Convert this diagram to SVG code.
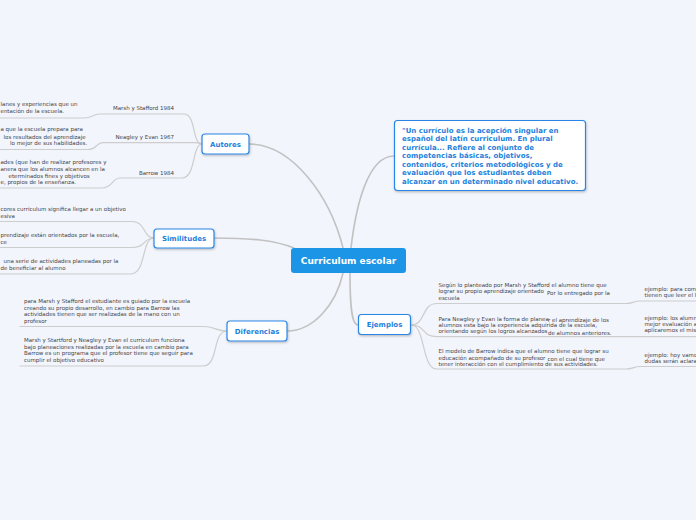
<svg xmlns="http://www.w3.org/2000/svg" width="696" height="520" viewBox="0 0 696 520">
<style>
.bg{fill:#f3f5fd}
.main{fill:none;stroke:#c2c2c2;stroke-width:1.6;stroke-linecap:round}
.sub{fill:none;stroke:#cdcdcd;stroke-width:1.2;stroke-linecap:round}
.node{fill:#ffffff;stroke:#2b86e4;stroke-width:1.2}
.lbl{font-family:"DejaVu Sans",sans-serif;font-weight:bold;font-size:7px;fill:#1f7fdc;text-anchor:middle}
.root{fill:#1d95e6}
.rootlbl{font-family:"DejaVu Sans",sans-serif;font-weight:bold;font-size:9px;fill:#ffffff;text-anchor:middle}
.t{font-family:"DejaVu Sans",sans-serif;font-size:5.5px;fill:#444444}
.te{font-family:"DejaVu Sans",sans-serif;font-size:5.5px;fill:#444444;text-anchor:end}
.q{font-family:"DejaVu Sans",sans-serif;font-weight:bold;font-size:7px;fill:#1f7fdc}
</style>
<defs>
<filter id="sh" x="-20%" y="-30%" width="140%" height="170%">
<feDropShadow dx="0.6" dy="1.2" stdDeviation="0.8" flood-color="#000000" flood-opacity="0.25"/>
</filter>
</defs>
<rect class="bg" x="0" y="0" width="696" height="520"/>

<g id="connectors">
<path class="main" d="M249,144 C292,144 330,196 343,248"/>
<path class="main" d="M351,248 C356,205 368,156 394,156"/>
<path class="main" d="M214,238 C250,238 274,240 294,248"/>
<path class="main" d="M343,273 C336,305 313,331 287,331"/>
<path class="main" d="M350,273 C350,302 351,325 358,325"/>
<path class="sub" d="M202,144 C192,144 196,114 184,114 L100,114 C92,114 93,118 84,118 L0,118"/>
<path class="sub" d="M202,144 C199,143 199,142.7 194,142.7 L103,142.7 C96,142.7 97,149.5 88,149.5 L0,149.5"/>
<path class="sub" d="M202,144 C192,144 196,178 182,178 L120,178 C112,178 113,188 102,188 L0,188"/>
<path class="sub" d="M154,238 C143,238 146,221.5 132,221.5 L0,221.5"/>
<path class="sub" d="M154,238 C143,238 146,247.5 132,247.5 L0,247.5"/>
<path class="sub" d="M154,238 C141,238 147,274 130,274 L0,274"/>
<path class="sub" d="M227,331 C215,331 216,326.5 203,326.5 L20,326.5"/>
<path class="sub" d="M227,331 C212,331 219,366 203,366 L20,366"/>
<path class="sub" d="M411,325 C426,325 421,303.5 437,303.5 L626,303.5 C633,303.5 633,301 641,301 L696,301"/>
<path class="sub" d="M411,325 C426,325 421,336.7 437,336.7 L696,336.7"/>
<path class="sub" d="M411,325 C426,325 421,369 437,369 L626,369 C633,369 633,366.5 641,366.5 L696,366.5"/>
</g>

<g id="root">
<rect class="root" x="291" y="248" width="115" height="25" rx="3"/>
<text class="rootlbl" x="348.5" y="264">Curriculum escolar</text>
</g>

<g id="quote">
<rect class="node" x="394.5" y="120.5" width="191" height="70" rx="3" filter="url(#sh)"/>
<text class="q" x="402" y="132.5">"Un currículo es la acepción singular en</text>
<text class="q" x="402" y="141">español del latín curriculum. En plural</text>
<text class="q" x="402" y="149.5">currícula... Refiere al conjunto de</text>
<text class="q" x="402" y="158">competencias básicas, objetivos,</text>
<text class="q" x="402" y="166.5">contenidos, criterios metodológicos y de</text>
<text class="q" x="402" y="175">evaluación que los estudiantes deben</text>
<text class="q" x="402" y="183.5">alcanzar en un determinado nivel educativo.</text>
</g>

<g id="autores">
<rect class="node" x="202" y="134" width="47" height="20" rx="3" filter="url(#sh)"/>
<text class="lbl" x="225.5" y="146.5">Autores</text>
</g>
<g id="autores-marsh">
<text class="te" x="174" y="110.3">Marsh y Stafford 1984</text>
<text class="t" x="0.5" y="106.3">lanes y experiencias que un</text>
<text class="t" x="0.5" y="113">entación de la escuela.</text>
</g>
<g id="autores-neagley">
<text class="te" x="174" y="139.3">Neagley y Evan 1967</text>
<text class="t" x="0.5" y="131">a que la escuela prepara para</text>
<text class="t" x="3.5" y="138.7">los resultados del aprendizaje</text>
<text class="t" x="10" y="144.7">lo mejor de sus habilidades.</text>
</g>
<g id="autores-barrow">
<text class="te" x="174" y="175.3">Barrow 1984</text>
<text class="t" x="0.5" y="164.3">ades (que han de realizar profesores y</text>
<text class="t" x="0.5" y="171.3">anera que los alumnos alcancen en la</text>
<text class="t" x="8.5" y="178">eterminados fines y objetivos</text>
<text class="t" x="0.5" y="184.3">e, propios de la enseñanza.</text>
</g>

<g id="similitudes">
<rect class="node" x="154" y="229" width="60" height="19" rx="3" filter="url(#sh)"/>
<text class="lbl" x="184" y="241">Similitudes</text>
</g>
<g id="similitudes-1">
<text class="t" x="0.5" y="211.3">cores curriculum significa llegar a un objetivo</text>
<text class="t" x="0.5" y="218">esiva</text>
</g>
<g id="similitudes-2">
<text class="t" x="0.5" y="237">prendizaje están orientados por la escuela,</text>
<text class="t" x="0.5" y="243.7">ce</text>
</g>
<g id="similitudes-3">
<text class="t" x="3.5" y="263">una serie de actividades planeadas por la</text>
<text class="t" x="0.5" y="269.7">de beneficiar al alumno</text>
</g>

<g id="diferencias">
<rect class="node" x="227" y="321" width="60" height="20" rx="3" filter="url(#sh)"/>
<text class="lbl" x="257" y="333.5">Diferencias</text>
</g>
<g id="diferencias-1">
<text class="t" x="24" y="303">para Marsh y Stafford el estudiante es guiado por la escuela</text>
<text class="t" x="24" y="309.5">creando su propio desarrollo, en cambio para Barrow las</text>
<text class="t" x="24" y="316">actividades tienen que ser realizadas de la mano con un</text>
<text class="t" x="24" y="322.5">profesor</text>
</g>
<g id="diferencias-2">
<text class="t" x="24" y="342">Marsh y Startford y Neagley y Evan el curriculum funciona</text>
<text class="t" x="24" y="348.5">bajo planeaciones realizadas por la escuela en cambio para</text>
<text class="t" x="24" y="355">Barrow es un programa que el profesor tiene que seguir para</text>
<text class="t" x="24" y="361.5">cumplir el objetivo educativo</text>
</g>

<g id="ejemplos">
<rect class="node" x="358.5" y="314.5" width="52" height="20" rx="3" filter="url(#sh)"/>
<text class="lbl" x="384.5" y="327">Ejemplos</text>
</g>
<g id="ejemplos-1">
<text class="t" x="438.5" y="287">Según lo planteado por Marsh y Stafford el alumno tiene que</text>
<text class="t" x="438.5" y="293">lograr su propio aprendizaje orientado</text>
<text class="t" x="547" y="294.5">Por lo entregado por la</text>
<text class="t" x="438.5" y="300">escuela</text>
</g>
<g id="ejemplos-1-ej">
<text class="t" x="644.5" y="291">ejemplo: para com</text>
<text class="t" x="644.5" y="297">tienen que leer el l</text>
</g>
<g id="ejemplos-2">
<text class="t" x="438.5" y="320.5">Para Neagley y Evan la forma de planea</text>
<text class="t" x="548" y="322">r el aprendizaje de los</text>
<text class="t" x="438.5" y="327">alumnos esta bajo la experiencia adquirida de la escuela,</text>
<text class="t" x="438.5" y="333">orientando según los logros alcanzados</text>
<text class="t" x="548" y="334.5">de alumnos anteriores.</text>
</g>
<g id="ejemplos-2-ej">
<text class="t" x="644.5" y="319.7">ejemplo: los alumn</text>
<text class="t" x="644.5" y="325.5">mejor evaluación a</text>
<text class="t" x="644.5" y="332">aplicaremos el mis</text>
</g>
<g id="ejemplos-3">
<text class="t" x="438.5" y="353">El modelo de Barrow indica que el alumno tiene que lograr su</text>
<text class="t" x="438.5" y="359.5">educación acompañado de su profesor</text>
<text class="t" x="547.5" y="361">con el cual tiene que</text>
<text class="t" x="438.5" y="366">tener interacción con el cumplimiento de sus actividades.</text>
</g>
<g id="ejemplos-3-ej">
<text class="t" x="644.5" y="357">ejemplo: hoy vamo</text>
<text class="t" x="644.5" y="362.7">dudas serán aclara</text>
</g>
</svg>
